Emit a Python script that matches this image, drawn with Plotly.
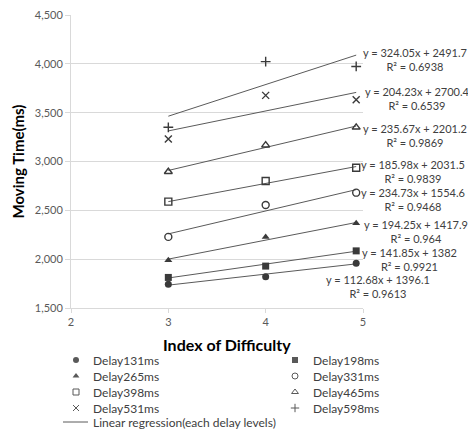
import plotly.graph_objects as go

# ---- data ----
index_of_difficulty = [3.0, 4.0, 4.93]
delay_names = ["Delay131ms", "Delay198ms", "Delay265ms", "Delay331ms",
               "Delay398ms", "Delay465ms", "Delay531ms", "Delay598ms"]
moving_time = {
    "Delay131ms": [1742, 1820, 1957],
    "Delay198ms": [1813, 1929, 2085],
    "Delay265ms": [1990, 2228, 2367],
    "Delay331ms": [2228, 2554, 2681],
    "Delay398ms": [2589, 2800, 2936],
    "Delay465ms": [2895, 3167, 3350],
    "Delay531ms": [3231, 3677, 3633],
    "Delay598ms": [3350, 4023, 3973],
}
slopes = [112.68, 141.85, 194.25, 234.73, 185.98, 235.67, 204.23, 324.05]
intercepts = [1396.1, 1382, 1417.9, 1554.6, 2031.5, 2201.2, 2700.4, 2491.7]
r_squared = ["0.9613", "0.9921", "0.964", "0.9468", "0.9839", "0.9869", "0.6539", "0.6938"]
regression_label = "Linear regression(each delay levels)"
x_ticks = [2, 3, 4, 5]
y_ticks = [1500, 2000, 2500, 3000, 3500, 4000, 4500]

# ---- styles / layout (pixels) ----
W, H = 468, 430
PLOT_L, PLOT_R, PLOT_T, PLOT_B = 71, 363, 15, 308
symbols = ["circle", "square", "triangle-up", "circle-open",
           "square-open", "triangle-up-open", "x-thin-open", "cross-thin-open"]
# equation label centres: (pixel x, data y)
label_pos = [(378, 1725), (409, 1997), (416, 2283), (413, 2606),
             (413, 2893), (415, 3271), (417, 3645), (415, 4044)]
# legend grid (pixels)
leg_marker_x = [76, 295]
leg_text_x = [91, 311]
leg_rows_y = [360, 376, 392, 408]
leg_line_y = 422
leg_line_x = [63, 88]
mk_color = "#3a3a3a"
leg_mk_color = "#595959"
line_color = "#5a5a5a"
FONT = "Lato"

fig = go.Figure()
x0, x1 = index_of_difficulty[0], index_of_difficulty[-1]
for i, name in enumerate(delay_names):
    fig.add_trace(go.Scatter(
        x=[x0, x1],
        y=[slopes[i] * x0 + intercepts[i], slopes[i] * x1 + intercepts[i]],
        mode="lines", line=dict(color=line_color, width=1),
        name=regression_label, showlegend=False, hoverinfo="skip"))
for i, name in enumerate(delay_names):
    sym = symbols[i]
    open_ = "open" in sym
    fig.add_trace(go.Scatter(
        x=index_of_difficulty, y=moving_time[name], mode="markers", name=name,
        marker=dict(symbol=sym, size=7, color=mk_color,
                    line=dict(color=mk_color, width=1.4 if open_ else 0)),
        showlegend=False))

# ---- manual legend on an overlay pixel axis ----
for i, name in enumerate(delay_names):
    col, row = i % 2, i // 2
    sym = symbols[i]
    open_ = "open" in sym
    fig.add_trace(go.Scatter(
        x=[leg_marker_x[col]], y=[leg_rows_y[row]], xaxis="x2", yaxis="y2",
        mode="markers", showlegend=False, hoverinfo="skip",
        marker=dict(symbol=sym, size=6, color=leg_mk_color,
                    line=dict(color=leg_mk_color, width=1 if open_ else 0))))
    fig.add_annotation(xref="x2", yref="y2", x=leg_text_x[col], y=leg_rows_y[row],
                       xanchor="left", yanchor="middle", text=name, showarrow=False,
                       font=dict(family=FONT, size=12, color="#404040"))
fig.add_trace(go.Scatter(
    x=leg_line_x, y=[leg_line_y, leg_line_y], xaxis="x2", yaxis="y2",
    mode="lines", line=dict(color=line_color, width=1),
    showlegend=False, hoverinfo="skip"))
fig.add_annotation(xref="x2", yref="y2", x=leg_text_x[0], y=leg_line_y,
                   xanchor="left", yanchor="middle", text=regression_label,
                   showarrow=False, font=dict(family=FONT, size=12, color="#404040"))

# ---- equation labels ----
for i in range(len(delay_names)):
    px, py = label_pos[i]
    fig.add_annotation(
        xref="paper", yref="y", x=px / W, y=py, xanchor="center", yanchor="middle",
        text=f"y = {slopes[i]:.2f}x + {intercepts[i]:g}<br>R² = {r_squared[i]}",
        showarrow=False, align="center",
        font=dict(family=FONT, size=11, color="#404040"))

fig.add_annotation(xref="paper", yref="paper", x=227 / W, y=1 - 344 / H,
                   xanchor="center", yanchor="middle",
                   text="<b>Index of Difficulty</b>", showarrow=False,
                   font=dict(family=FONT, size=16, color="#000000"))

fig.update_layout(
    xaxis=dict(domain=[PLOT_L / W, PLOT_R / W], range=[2, 5], tickvals=x_ticks,
               showgrid=False, showline=True, linecolor="#d9d9d9", linewidth=1,
               ticks="outside", ticklen=4, tickcolor="#d9d9d9",
               tickfont=dict(family=FONT, size=11, color="#595959"),
               zeroline=False, automargin=False),
    yaxis=dict(domain=[1 - PLOT_B / H, 1 - PLOT_T / H], range=[1500, 4500],
               tickvals=y_ticks, tickformat=",",
               showgrid=True, gridcolor="#d9d9d9", gridwidth=1,
               showline=True, linecolor="#d9d9d9", linewidth=1,
               ticks="outside", ticklen=5, tickcolor="#d9d9d9",
               tickfont=dict(family=FONT, size=11, color="#595959"),
               title=dict(text="<b>Moving Time(ms)</b>", standoff=6,
                          font=dict(family=FONT, size=15, color="#000000")),
               zeroline=False, automargin=False),
    xaxis2=dict(domain=[0, 1], range=[0, W], visible=False, anchor="y2",
                fixedrange=True),
    yaxis2=dict(domain=[0, 1], range=[H, 0], visible=False, anchor="x2",
                fixedrange=True),
    width=W, height=H,
    margin=dict(l=0, r=0, t=0, b=0, autoexpand=False),
    paper_bgcolor="white", plot_bgcolor="rgba(0,0,0,0)",
    font=dict(family=FONT, color="#404040"),
    showlegend=False,
)

fig.write_html("out.html")
